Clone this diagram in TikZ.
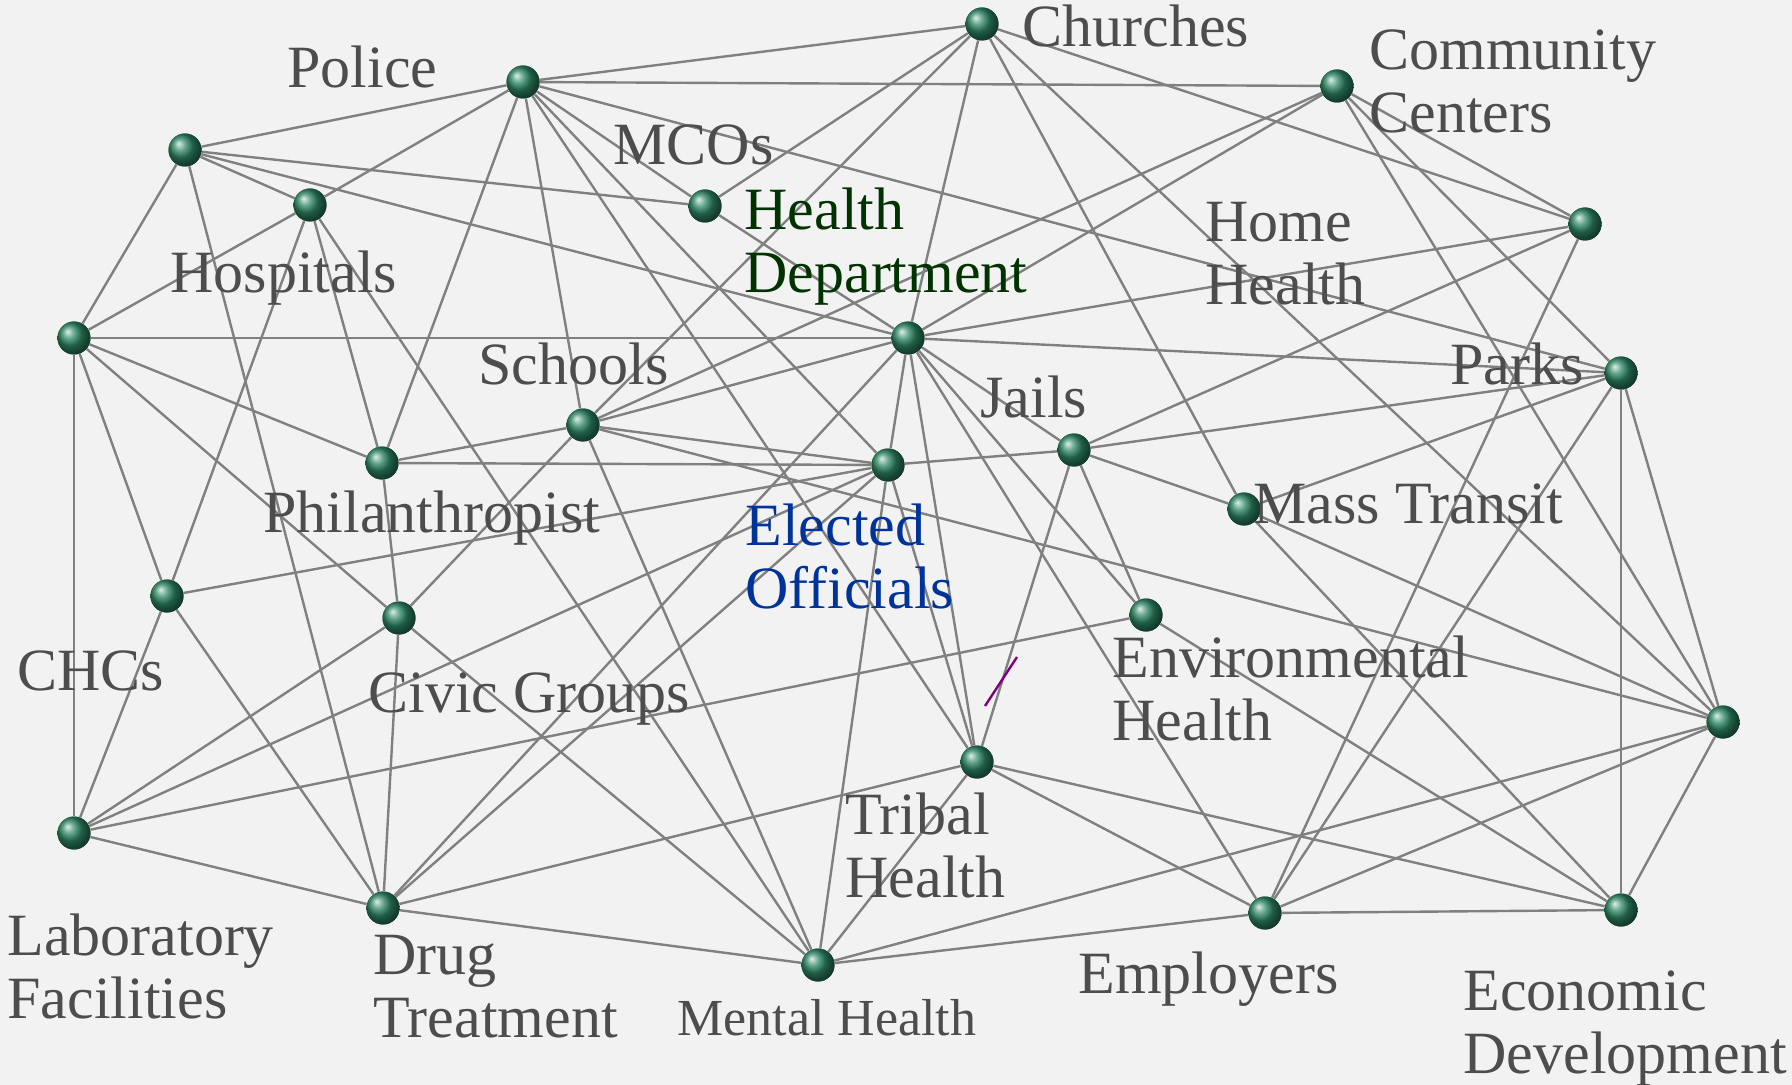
\documentclass[tikz,border=0pt]{standalone}
\usepackage{fontspec}
\setmainfont{Liberation Serif}

\definecolor{bggray}{RGB}{242,242,242}
\definecolor{edgegray}{RGB}{128,128,128}
\definecolor{labelgray}{RGB}{77,77,77}
\definecolor{deptgreen}{RGB}{0,51,0}
\definecolor{officialblue}{RGB}{0,51,153}
\definecolor{ballgreen}{RGB}{45,135,100}
\definecolor{markpurple}{RGB}{128,0,128}

\begin{document}
\begin{tikzpicture}[x=0.5pt,y=-0.5pt]

        \fill[bggray] (0,0) rectangle (1792,1085);
        \useasboundingbox (0,0) rectangle (1792,1085);

        \begin{scope}[every node/.style={circle, shading=ball, ball color=ballgreen, minimum size=16.5pt, inner sep=0pt}]
          \node (1)  at (982,24)   {};
          \node (2)  at (523,82)   {};
          \node (3)  at (1337,86)  {};
          \node (4)  at (185,150)  {};
          \node (5)  at (310,205)  {};
          \node (6)  at (705,206)  {};
          \node (7)  at (1585,224) {};
          \node (8)  at (74,338)   {};
          \node (9)  at (908,338)  {};
          \node (10) at (1621,373) {};
          \node (11) at (583,425)  {};
          \node (12) at (382,463)  {};
          \node (13) at (888,465)  {};
          \node (14) at (1074,450) {};
          \node (15) at (1244,509) {};
          \node (16) at (167,596)  {};
          \node (17) at (399,618)  {};
          \node (18) at (1146,615) {};
          \node (19) at (1723,722) {};
          \node (20) at (977,762)  {};
          \node (21) at (74,833)   {};
          \node (22) at (383,908)  {};
          \node (23) at (818,965)  {};
          \node (24) at (1265,913) {};
          \node (25) at (1621,910) {};
        \end{scope}

        \begin{scope}[every edge/.style={draw=edgegray, line width=1.2pt}]
          \path (4)  edge (2) edge (6) edge (9) edge (5) edge (8) edge (22);
          \path (2)  edge (5) edge (1) edge (3) edge (10) edge (6) edge (13) edge (20) edge (11) edge (12);
          \path (5)  edge (8) edge (16) edge (12) edge (23);
          \path (8)  edge (9) edge (12) edge (17) edge (16) edge (21);
          \path (16) edge (13) edge (21) edge (22);
          \path (12) edge (11) edge (13) edge (17);
          \path (17) edge (11) edge (22) edge (21) edge (23);
          \path (21) edge (13) edge (18) edge (22);
          \path (22) edge (9) edge (13) edge (20) edge (23);
          \path (23) edge (11) edge (13) edge (20) edge (19) edge (24);
          \path (20) edge (25) edge (24) edge (14) edge (9) edge (13);
          \path (1)  edge (6) edge (11) edge (9) edge (15) edge (19) edge (7);
          \path (3)  edge (9) edge (11) edge (7) edge (10) edge (19);
          \path (7)  edge (9) edge (14) edge (24);
          \path (10) edge (9) edge (14) edge (15) edge (24) edge (25) edge (19);
          \path (19) edge (11) edge (15) edge (25) edge (24);
          \path (25) edge (18) edge (15) edge (24);
          \path (24) edge (9);
          \path (18) edge (14) edge (9);
          \path (14) edge (15) edge (13) edge (9);
          \path (13) edge (11) edge (9);
          \path (11) edge (9);
          \path (6)  edge (9);
        \end{scope}

        % redraw the balls over the lines
        \begin{scope}[every node/.style={circle, shading=ball, ball color=ballgreen, minimum size=16.5pt, inner sep=0pt}]
          \foreach \n in {1,...,25} {\node at (\n) {};}
        \end{scope}

        % multi-line labels sit on the baseline of their last line
        \begin{scope}[every node/.style={text=labelgray, font=\fontsize{30}{31.5}\selectfont, anchor=base west, align=left, inner sep=0pt}]
          \node (l1)  at (1022,47)  {Churches};
          \node (l2)  at (287,88)   {Police};
          \node (l3)  at (1369,133) {Community\\Centers};
          \node (l5)  at (170,293)  {Hospitals};
          \node (l6)  at (613,165)  {MCOs};
          \node (l7)  at (1205,305) {Home\\Health};
          \node[text=deptgreen] (l9) at (744,293) {Health\\Department};
          \node (l10) at (1450,385) {Parks};
          \node (l11) at (478,385)  {Schools};
          \node (l12) at (263,532)  {Philanthropist};
          \node[text=officialblue] (l13) at (745,608) {Elected\\Officials};
          \node (l14) at (980,417)  {Jails};
          \node (l15) at (1253,523) {Mass Transit};
          \node (l16) at (17,690)   {CHCs};
          \node (l17) at (368,712)  {Civic Groups};
          \node (l18) at (1112,740) {Environmental\\Health};
          \node (l20) at (845,897)  {Tribal\\Health};
          \node (l21) at (7,1018)   {Laboratory\\Facilities};
          \node (l22) at (373,1037) {Drug\\Treatment};
          \node[font=\fontsize{26}{28}\selectfont] (l23) at (677,1035) {Mental Health};
          \node (l24) at (1078,993) {Employers};
          \node (l25) at (1463,1073) {Economic\\Development};
        \end{scope}

        \coordinate (m1) at (985,706);
        \coordinate (m2) at (1017,657);
        \draw[markpurple, line width=1.2pt] (m1) -- (m2);

\end{tikzpicture}
\end{document}
